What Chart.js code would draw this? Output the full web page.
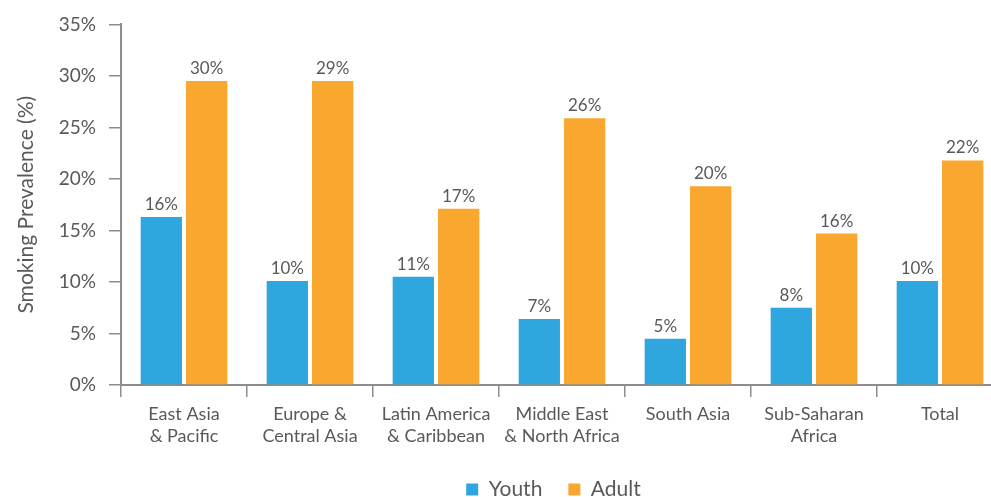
<!DOCTYPE html>
<html>
<head>
<meta charset="utf-8">
<script src="https://cdn.jsdelivr.net/npm/chart.js@4"></script>
<style>
  html, body { margin: 0; padding: 0; background: #fff; overflow: hidden; }
  #frame { width: 991px; height: 497px; overflow: hidden; position: relative; }
  #box { width: 1003px; height: 510px; position: absolute; left: 0; top: 0; }
</style>
</head>
<body>
<div id="frame"><div id="box"><canvas id="chart"></canvas></div></div>
<script>
const categories = [
  ["East Asia", "& Pacific"],
  ["Europe &", "Central Asia"],
  ["Latin America", "& Caribbean"],
  ["Middle East", "& North Africa"],
  ["South Asia"],
  ["Sub-Saharan", "Africa"],
  ["Total"]
];
const youthValues = [16.3, 10.1, 10.5, 6.4, 4.5, 7.5, 10.1];
const adultValues = [29.5, 29.5, 17.1, 25.9, 19.3, 14.7, 21.8];
const youthLabels = ["16%", "10%", "11%", "7%", "5%", "8%", "10%"];
const adultLabels = ["30%", "29%", "17%", "26%", "20%", "16%", "22%"];
const yTicks = [0, 5, 10, 15, 20, 25, 30, 35];

const TEXT = "#595959";
const AXIS = "#8c8c8c";
const FONT = "Lato, 'Open Sans', sans-serif";

const barLabels = {
  id: "barLabels",
  afterDatasetsDraw(chart) {
    const ctx = chart.ctx;
    ctx.save();
    ctx.font = `17px ${FONT}`;
    ctx.fillStyle = TEXT;
    ctx.textAlign = "center";
    ctx.textBaseline = "alphabetic";
    chart.data.datasets.forEach((ds, i) => {
      chart.getDatasetMeta(i).data.forEach((bar, j) => {
        ctx.fillText(ds.valueLabels[j], bar.x, bar.y - 7);
      });
    });
    ctx.restore();
  }
};

const legendShift = {
  id: "legendShift",
  afterLayout(chart) {
    const dx = 52;
    chart.legend.left += dx;
    chart.legend.right += dx;
  }
};

new Chart(document.getElementById("chart"), {
  type: "bar",
  data: {
    labels: categories,
    datasets: [
      {
        label: "Youth",
        data: youthValues,
        valueLabels: youthLabels,
        backgroundColor: "#2fa6de",
        categoryPercentage: 0.72,
        barPercentage: 0.91
      },
      {
        label: "Adult",
        data: adultValues,
        valueLabels: adultLabels,
        backgroundColor: "#f9a72e",
        categoryPercentage: 0.72,
        barPercentage: 0.91
      }
    ]
  },
  options: {
    responsive: true,
    maintainAspectRatio: false,
    animation: false,
    layout: { padding: { top: 22, right: 0, left: 0, bottom: 0 } },
    plugins: {
      legend: {
        position: "bottom",
        labels: {
          boxWidth: 12,
          boxHeight: 12,
          padding: 26,
          color: TEXT,
          font: { family: FONT, size: 21 }
        }
      },
      tooltip: { enabled: false }
    },
    scales: {
      x: {
        grid: { drawOnChartArea: false, tickLength: 12, color: AXIS, lineWidth: 1.5, offset: true },
        border: { color: AXIS, width: 2 },
        ticks: {
          color: TEXT,
          padding: 7,
          maxRotation: 0,
          autoSkip: false,
          font: { family: FONT, size: 18, lineHeight: 1.18 }
        },
        afterFit(scale) {
          scale.height = 68;
        }
      },
      y: {
        min: 0,
        max: 35,
        afterBuildTicks(scale) {
          scale.ticks = yTicks.map((v) => ({ value: v }));
        },
        grid: { drawOnChartArea: false, tickLength: 12, color: AXIS, lineWidth: 1.5 },
        border: { color: AXIS, width: 2 },
        ticks: {
          color: TEXT,
          padding: 13,
          font: { family: FONT, size: 19 },
          callback(value) {
            return `${value}%`;
          }
        },
        title: {
          display: true,
          text: "Smoking Prevalence (%)",
          color: TEXT,
          padding: { top: 14, bottom: 6 },
          font: { family: FONT, size: 21 }
        },
        afterFit(scale) {
          scale.width = 121;
        }
      }
    }
  },
  plugins: [barLabels, legendShift]
});
</script>
</body>
</html>
